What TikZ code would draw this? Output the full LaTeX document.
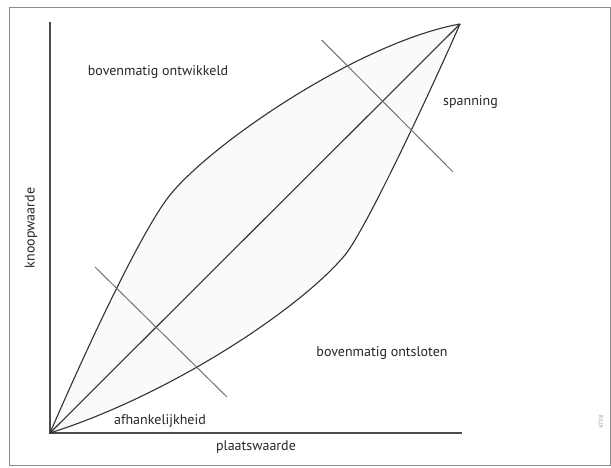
\documentclass[tikz,border=0pt]{standalone}
\usepackage{fontspec}
\setmainfont{PT Sans}
\begin{document}
\begin{tikzpicture}[x=1pt,y=-1pt,
  curve/.style={draw=black!80, line width=1.1pt},
  axisline/.style={draw=black!70, line width=1.1pt},
  crossline/.style={draw=black!55, line width=1pt},
  lbl/.style={font=\fontsize{14}{16}\selectfont, text=black!85, inner sep=0pt}]
\useasboundingbox (0,0) rectangle (611,468);
\draw[draw=black!45, line width=0.9pt] (9,7) rectangle (610,465);
% points
\coordinate (O) at (50,433);
\coordinate (T) at (460,24);
\coordinate (P) at (170,195);
\coordinate (Q) at (345,255);
\coordinate (Ytop) at (50,22);
\coordinate (Xend) at (462,433);
\coordinate (A1) at (321.7,40);
\coordinate (A2) at (453,172);
\coordinate (B1) at (95,267);
\coordinate (B2) at (227,397);
% lens fill
\fill[black!2] (O) .. controls (88,345) and (142,230) .. (P)
  .. controls (212,143) and (360,42) .. (T)
  .. controls (436,79) and (367,228) .. (Q)
  .. controls (300,309) and (170,395) .. (O) -- cycle;
% axes
\draw[axisline] (Ytop) -- (O) -- (Xend);
% curves
\draw[curve] (O) .. controls (88,345) and (142,230) .. (P)
  .. controls (212,143) and (360,42) .. (T);
\draw[curve] (O) .. controls (170,395) and (300,309) .. (Q)
  .. controls (367,228) and (436,79) .. (T);
\draw[curve] (O) -- (T);
% cross lines
\draw[crossline] (A1) -- (A2);
\draw[crossline] (B1) -- (B2);
% labels
\node[lbl] (ontw) at (158,72) {bovenmatig ontwikkeld};
\node[lbl, anchor=west] (span) at (443,102) {spanning};
\node[lbl] (onts) at (382,353) {bovenmatig ontsloten};
\node[lbl] (afh) at (160,421) {afhankelijkheid};
\node[lbl] (plw) at (256,447) {plaatswaarde};
\node[lbl, rotate=90] (knw) at (31,228) {knoopwaarde};
\node[font=\fontsize{6}{7}\selectfont, text=black!40, rotate=90, inner sep=0pt] (num) at (601,422) {4738};
\end{tikzpicture}
\end{document}
